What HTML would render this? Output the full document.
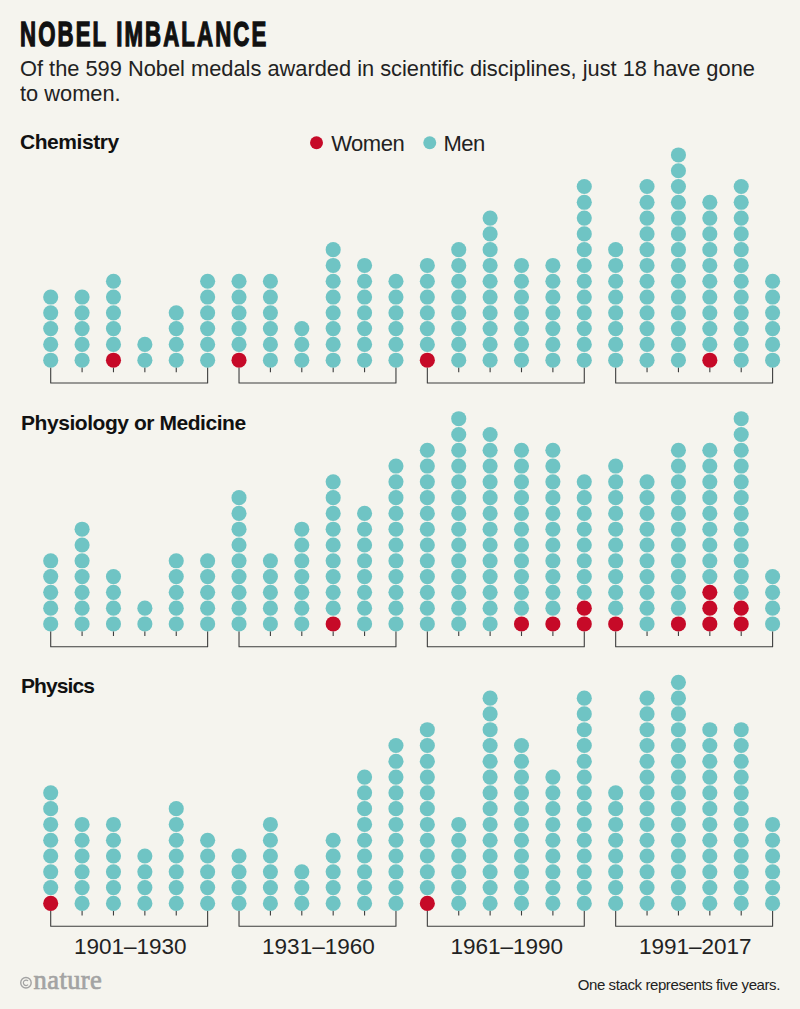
<!DOCTYPE html>
<html><head><meta charset="utf-8"><style>
html,body{margin:0;padding:0;background:#f5f4ee;}
body{width:800px;height:1009px;position:relative;overflow:hidden;font-family:"Liberation Sans",sans-serif;color:#1a1a1a;}
.t{position:absolute;white-space:nowrap;line-height:1;}
#title{left:19.5px;top:16.75px;font-size:35.5px;font-weight:bold;color:#111;transform:scaleX(0.625);transform-origin:0 0;letter-spacing:3.4px;-webkit-text-stroke:1.4px #111;}
#sub{left:20px;top:55.7px;font-size:22.5px;line-height:25.1px;color:#222;transform:scaleX(0.9696);transform-origin:0 0;}
.sec{font-size:21px;font-weight:bold;color:#111;letter-spacing:-0.45px;}
.leg{font-size:22px;color:#222;letter-spacing:-0.5px;}
.yr{font-size:22.5px;color:#222;}
#note{font-size:15px;color:#222;letter-spacing:-0.4px;}
#logo{left:33.6px;top:967.1px;font-family:"Liberation Serif",serif;color:#a3a3a3;font-size:26.5px;font-weight:normal;letter-spacing:0.4px;-webkit-text-stroke:0.7px #a3a3a3;}
#copy{left:19px;top:975px;font-family:"Liberation Serif",serif;color:#a3a3a3;font-size:17.5px;font-weight:bold;}
</style></head><body>
<svg width="800" height="1009" viewBox="0 0 800 1009" style="position:absolute;left:0;top:0">
<circle cx="50.70" cy="360.20" r="7.55" fill="#6fc4c4"/>
<circle cx="50.70" cy="344.41" r="7.55" fill="#6fc4c4"/>
<circle cx="50.70" cy="328.62" r="7.55" fill="#6fc4c4"/>
<circle cx="50.70" cy="312.83" r="7.55" fill="#6fc4c4"/>
<circle cx="50.70" cy="297.04" r="7.55" fill="#6fc4c4"/>
<circle cx="82.09" cy="360.20" r="7.55" fill="#6fc4c4"/>
<circle cx="82.09" cy="344.41" r="7.55" fill="#6fc4c4"/>
<circle cx="82.09" cy="328.62" r="7.55" fill="#6fc4c4"/>
<circle cx="82.09" cy="312.83" r="7.55" fill="#6fc4c4"/>
<circle cx="82.09" cy="297.04" r="7.55" fill="#6fc4c4"/>
<circle cx="113.47" cy="360.20" r="7.55" fill="#c60a28"/>
<circle cx="113.47" cy="344.41" r="7.55" fill="#6fc4c4"/>
<circle cx="113.47" cy="328.62" r="7.55" fill="#6fc4c4"/>
<circle cx="113.47" cy="312.83" r="7.55" fill="#6fc4c4"/>
<circle cx="113.47" cy="297.04" r="7.55" fill="#6fc4c4"/>
<circle cx="113.47" cy="281.25" r="7.55" fill="#6fc4c4"/>
<circle cx="144.86" cy="360.20" r="7.55" fill="#6fc4c4"/>
<circle cx="144.86" cy="344.41" r="7.55" fill="#6fc4c4"/>
<circle cx="176.25" cy="360.20" r="7.55" fill="#6fc4c4"/>
<circle cx="176.25" cy="344.41" r="7.55" fill="#6fc4c4"/>
<circle cx="176.25" cy="328.62" r="7.55" fill="#6fc4c4"/>
<circle cx="176.25" cy="312.83" r="7.55" fill="#6fc4c4"/>
<circle cx="207.63" cy="360.20" r="7.55" fill="#6fc4c4"/>
<circle cx="207.63" cy="344.41" r="7.55" fill="#6fc4c4"/>
<circle cx="207.63" cy="328.62" r="7.55" fill="#6fc4c4"/>
<circle cx="207.63" cy="312.83" r="7.55" fill="#6fc4c4"/>
<circle cx="207.63" cy="297.04" r="7.55" fill="#6fc4c4"/>
<circle cx="207.63" cy="281.25" r="7.55" fill="#6fc4c4"/>
<circle cx="239.02" cy="360.20" r="7.55" fill="#c60a28"/>
<circle cx="239.02" cy="344.41" r="7.55" fill="#6fc4c4"/>
<circle cx="239.02" cy="328.62" r="7.55" fill="#6fc4c4"/>
<circle cx="239.02" cy="312.83" r="7.55" fill="#6fc4c4"/>
<circle cx="239.02" cy="297.04" r="7.55" fill="#6fc4c4"/>
<circle cx="239.02" cy="281.25" r="7.55" fill="#6fc4c4"/>
<circle cx="270.41" cy="360.20" r="7.55" fill="#6fc4c4"/>
<circle cx="270.41" cy="344.41" r="7.55" fill="#6fc4c4"/>
<circle cx="270.41" cy="328.62" r="7.55" fill="#6fc4c4"/>
<circle cx="270.41" cy="312.83" r="7.55" fill="#6fc4c4"/>
<circle cx="270.41" cy="297.04" r="7.55" fill="#6fc4c4"/>
<circle cx="270.41" cy="281.25" r="7.55" fill="#6fc4c4"/>
<circle cx="301.80" cy="360.20" r="7.55" fill="#6fc4c4"/>
<circle cx="301.80" cy="344.41" r="7.55" fill="#6fc4c4"/>
<circle cx="301.80" cy="328.62" r="7.55" fill="#6fc4c4"/>
<circle cx="333.18" cy="360.20" r="7.55" fill="#6fc4c4"/>
<circle cx="333.18" cy="344.41" r="7.55" fill="#6fc4c4"/>
<circle cx="333.18" cy="328.62" r="7.55" fill="#6fc4c4"/>
<circle cx="333.18" cy="312.83" r="7.55" fill="#6fc4c4"/>
<circle cx="333.18" cy="297.04" r="7.55" fill="#6fc4c4"/>
<circle cx="333.18" cy="281.25" r="7.55" fill="#6fc4c4"/>
<circle cx="333.18" cy="265.46" r="7.55" fill="#6fc4c4"/>
<circle cx="333.18" cy="249.67" r="7.55" fill="#6fc4c4"/>
<circle cx="364.57" cy="360.20" r="7.55" fill="#6fc4c4"/>
<circle cx="364.57" cy="344.41" r="7.55" fill="#6fc4c4"/>
<circle cx="364.57" cy="328.62" r="7.55" fill="#6fc4c4"/>
<circle cx="364.57" cy="312.83" r="7.55" fill="#6fc4c4"/>
<circle cx="364.57" cy="297.04" r="7.55" fill="#6fc4c4"/>
<circle cx="364.57" cy="281.25" r="7.55" fill="#6fc4c4"/>
<circle cx="364.57" cy="265.46" r="7.55" fill="#6fc4c4"/>
<circle cx="395.96" cy="360.20" r="7.55" fill="#6fc4c4"/>
<circle cx="395.96" cy="344.41" r="7.55" fill="#6fc4c4"/>
<circle cx="395.96" cy="328.62" r="7.55" fill="#6fc4c4"/>
<circle cx="395.96" cy="312.83" r="7.55" fill="#6fc4c4"/>
<circle cx="395.96" cy="297.04" r="7.55" fill="#6fc4c4"/>
<circle cx="395.96" cy="281.25" r="7.55" fill="#6fc4c4"/>
<circle cx="427.34" cy="360.20" r="7.55" fill="#c60a28"/>
<circle cx="427.34" cy="344.41" r="7.55" fill="#6fc4c4"/>
<circle cx="427.34" cy="328.62" r="7.55" fill="#6fc4c4"/>
<circle cx="427.34" cy="312.83" r="7.55" fill="#6fc4c4"/>
<circle cx="427.34" cy="297.04" r="7.55" fill="#6fc4c4"/>
<circle cx="427.34" cy="281.25" r="7.55" fill="#6fc4c4"/>
<circle cx="427.34" cy="265.46" r="7.55" fill="#6fc4c4"/>
<circle cx="458.73" cy="360.20" r="7.55" fill="#6fc4c4"/>
<circle cx="458.73" cy="344.41" r="7.55" fill="#6fc4c4"/>
<circle cx="458.73" cy="328.62" r="7.55" fill="#6fc4c4"/>
<circle cx="458.73" cy="312.83" r="7.55" fill="#6fc4c4"/>
<circle cx="458.73" cy="297.04" r="7.55" fill="#6fc4c4"/>
<circle cx="458.73" cy="281.25" r="7.55" fill="#6fc4c4"/>
<circle cx="458.73" cy="265.46" r="7.55" fill="#6fc4c4"/>
<circle cx="458.73" cy="249.67" r="7.55" fill="#6fc4c4"/>
<circle cx="490.12" cy="360.20" r="7.55" fill="#6fc4c4"/>
<circle cx="490.12" cy="344.41" r="7.55" fill="#6fc4c4"/>
<circle cx="490.12" cy="328.62" r="7.55" fill="#6fc4c4"/>
<circle cx="490.12" cy="312.83" r="7.55" fill="#6fc4c4"/>
<circle cx="490.12" cy="297.04" r="7.55" fill="#6fc4c4"/>
<circle cx="490.12" cy="281.25" r="7.55" fill="#6fc4c4"/>
<circle cx="490.12" cy="265.46" r="7.55" fill="#6fc4c4"/>
<circle cx="490.12" cy="249.67" r="7.55" fill="#6fc4c4"/>
<circle cx="490.12" cy="233.88" r="7.55" fill="#6fc4c4"/>
<circle cx="490.12" cy="218.09" r="7.55" fill="#6fc4c4"/>
<circle cx="521.50" cy="360.20" r="7.55" fill="#6fc4c4"/>
<circle cx="521.50" cy="344.41" r="7.55" fill="#6fc4c4"/>
<circle cx="521.50" cy="328.62" r="7.55" fill="#6fc4c4"/>
<circle cx="521.50" cy="312.83" r="7.55" fill="#6fc4c4"/>
<circle cx="521.50" cy="297.04" r="7.55" fill="#6fc4c4"/>
<circle cx="521.50" cy="281.25" r="7.55" fill="#6fc4c4"/>
<circle cx="521.50" cy="265.46" r="7.55" fill="#6fc4c4"/>
<circle cx="552.89" cy="360.20" r="7.55" fill="#6fc4c4"/>
<circle cx="552.89" cy="344.41" r="7.55" fill="#6fc4c4"/>
<circle cx="552.89" cy="328.62" r="7.55" fill="#6fc4c4"/>
<circle cx="552.89" cy="312.83" r="7.55" fill="#6fc4c4"/>
<circle cx="552.89" cy="297.04" r="7.55" fill="#6fc4c4"/>
<circle cx="552.89" cy="281.25" r="7.55" fill="#6fc4c4"/>
<circle cx="552.89" cy="265.46" r="7.55" fill="#6fc4c4"/>
<circle cx="584.28" cy="360.20" r="7.55" fill="#6fc4c4"/>
<circle cx="584.28" cy="344.41" r="7.55" fill="#6fc4c4"/>
<circle cx="584.28" cy="328.62" r="7.55" fill="#6fc4c4"/>
<circle cx="584.28" cy="312.83" r="7.55" fill="#6fc4c4"/>
<circle cx="584.28" cy="297.04" r="7.55" fill="#6fc4c4"/>
<circle cx="584.28" cy="281.25" r="7.55" fill="#6fc4c4"/>
<circle cx="584.28" cy="265.46" r="7.55" fill="#6fc4c4"/>
<circle cx="584.28" cy="249.67" r="7.55" fill="#6fc4c4"/>
<circle cx="584.28" cy="233.88" r="7.55" fill="#6fc4c4"/>
<circle cx="584.28" cy="218.09" r="7.55" fill="#6fc4c4"/>
<circle cx="584.28" cy="202.30" r="7.55" fill="#6fc4c4"/>
<circle cx="584.28" cy="186.51" r="7.55" fill="#6fc4c4"/>
<circle cx="615.67" cy="360.20" r="7.55" fill="#6fc4c4"/>
<circle cx="615.67" cy="344.41" r="7.55" fill="#6fc4c4"/>
<circle cx="615.67" cy="328.62" r="7.55" fill="#6fc4c4"/>
<circle cx="615.67" cy="312.83" r="7.55" fill="#6fc4c4"/>
<circle cx="615.67" cy="297.04" r="7.55" fill="#6fc4c4"/>
<circle cx="615.67" cy="281.25" r="7.55" fill="#6fc4c4"/>
<circle cx="615.67" cy="265.46" r="7.55" fill="#6fc4c4"/>
<circle cx="615.67" cy="249.67" r="7.55" fill="#6fc4c4"/>
<circle cx="647.05" cy="360.20" r="7.55" fill="#6fc4c4"/>
<circle cx="647.05" cy="344.41" r="7.55" fill="#6fc4c4"/>
<circle cx="647.05" cy="328.62" r="7.55" fill="#6fc4c4"/>
<circle cx="647.05" cy="312.83" r="7.55" fill="#6fc4c4"/>
<circle cx="647.05" cy="297.04" r="7.55" fill="#6fc4c4"/>
<circle cx="647.05" cy="281.25" r="7.55" fill="#6fc4c4"/>
<circle cx="647.05" cy="265.46" r="7.55" fill="#6fc4c4"/>
<circle cx="647.05" cy="249.67" r="7.55" fill="#6fc4c4"/>
<circle cx="647.05" cy="233.88" r="7.55" fill="#6fc4c4"/>
<circle cx="647.05" cy="218.09" r="7.55" fill="#6fc4c4"/>
<circle cx="647.05" cy="202.30" r="7.55" fill="#6fc4c4"/>
<circle cx="647.05" cy="186.51" r="7.55" fill="#6fc4c4"/>
<circle cx="678.44" cy="360.20" r="7.55" fill="#6fc4c4"/>
<circle cx="678.44" cy="344.41" r="7.55" fill="#6fc4c4"/>
<circle cx="678.44" cy="328.62" r="7.55" fill="#6fc4c4"/>
<circle cx="678.44" cy="312.83" r="7.55" fill="#6fc4c4"/>
<circle cx="678.44" cy="297.04" r="7.55" fill="#6fc4c4"/>
<circle cx="678.44" cy="281.25" r="7.55" fill="#6fc4c4"/>
<circle cx="678.44" cy="265.46" r="7.55" fill="#6fc4c4"/>
<circle cx="678.44" cy="249.67" r="7.55" fill="#6fc4c4"/>
<circle cx="678.44" cy="233.88" r="7.55" fill="#6fc4c4"/>
<circle cx="678.44" cy="218.09" r="7.55" fill="#6fc4c4"/>
<circle cx="678.44" cy="202.30" r="7.55" fill="#6fc4c4"/>
<circle cx="678.44" cy="186.51" r="7.55" fill="#6fc4c4"/>
<circle cx="678.44" cy="170.72" r="7.55" fill="#6fc4c4"/>
<circle cx="678.44" cy="154.93" r="7.55" fill="#6fc4c4"/>
<circle cx="709.83" cy="360.20" r="7.55" fill="#c60a28"/>
<circle cx="709.83" cy="344.41" r="7.55" fill="#6fc4c4"/>
<circle cx="709.83" cy="328.62" r="7.55" fill="#6fc4c4"/>
<circle cx="709.83" cy="312.83" r="7.55" fill="#6fc4c4"/>
<circle cx="709.83" cy="297.04" r="7.55" fill="#6fc4c4"/>
<circle cx="709.83" cy="281.25" r="7.55" fill="#6fc4c4"/>
<circle cx="709.83" cy="265.46" r="7.55" fill="#6fc4c4"/>
<circle cx="709.83" cy="249.67" r="7.55" fill="#6fc4c4"/>
<circle cx="709.83" cy="233.88" r="7.55" fill="#6fc4c4"/>
<circle cx="709.83" cy="218.09" r="7.55" fill="#6fc4c4"/>
<circle cx="709.83" cy="202.30" r="7.55" fill="#6fc4c4"/>
<circle cx="741.21" cy="360.20" r="7.55" fill="#6fc4c4"/>
<circle cx="741.21" cy="344.41" r="7.55" fill="#6fc4c4"/>
<circle cx="741.21" cy="328.62" r="7.55" fill="#6fc4c4"/>
<circle cx="741.21" cy="312.83" r="7.55" fill="#6fc4c4"/>
<circle cx="741.21" cy="297.04" r="7.55" fill="#6fc4c4"/>
<circle cx="741.21" cy="281.25" r="7.55" fill="#6fc4c4"/>
<circle cx="741.21" cy="265.46" r="7.55" fill="#6fc4c4"/>
<circle cx="741.21" cy="249.67" r="7.55" fill="#6fc4c4"/>
<circle cx="741.21" cy="233.88" r="7.55" fill="#6fc4c4"/>
<circle cx="741.21" cy="218.09" r="7.55" fill="#6fc4c4"/>
<circle cx="741.21" cy="202.30" r="7.55" fill="#6fc4c4"/>
<circle cx="741.21" cy="186.51" r="7.55" fill="#6fc4c4"/>
<circle cx="772.60" cy="360.20" r="7.55" fill="#6fc4c4"/>
<circle cx="772.60" cy="344.41" r="7.55" fill="#6fc4c4"/>
<circle cx="772.60" cy="328.62" r="7.55" fill="#6fc4c4"/>
<circle cx="772.60" cy="312.83" r="7.55" fill="#6fc4c4"/>
<circle cx="772.60" cy="297.04" r="7.55" fill="#6fc4c4"/>
<circle cx="772.60" cy="281.25" r="7.55" fill="#6fc4c4"/>
<path d="M50.70 367.75V383.00H207.63V367.75 M82.09 367.75V372.20 M113.47 367.75V372.20 M144.86 367.75V372.20 M176.25 367.75V372.20 M239.02 367.75V383.00H395.96V367.75 M270.41 367.75V372.20 M301.80 367.75V372.20 M333.18 367.75V372.20 M364.57 367.75V372.20 M427.34 367.75V383.00H584.28V367.75 M458.73 367.75V372.20 M490.12 367.75V372.20 M521.50 367.75V372.20 M552.89 367.75V372.20 M615.67 367.75V383.00H772.60V367.75 M647.05 367.75V372.20 M678.44 367.75V372.20 M709.83 367.75V372.20 M741.21 367.75V372.20" stroke="#3d3d3d" stroke-width="1.1" fill="none" stroke-linejoin="round"/>
<circle cx="50.70" cy="623.95" r="7.55" fill="#6fc4c4"/>
<circle cx="50.70" cy="608.16" r="7.55" fill="#6fc4c4"/>
<circle cx="50.70" cy="592.37" r="7.55" fill="#6fc4c4"/>
<circle cx="50.70" cy="576.58" r="7.55" fill="#6fc4c4"/>
<circle cx="50.70" cy="560.79" r="7.55" fill="#6fc4c4"/>
<circle cx="82.09" cy="623.95" r="7.55" fill="#6fc4c4"/>
<circle cx="82.09" cy="608.16" r="7.55" fill="#6fc4c4"/>
<circle cx="82.09" cy="592.37" r="7.55" fill="#6fc4c4"/>
<circle cx="82.09" cy="576.58" r="7.55" fill="#6fc4c4"/>
<circle cx="82.09" cy="560.79" r="7.55" fill="#6fc4c4"/>
<circle cx="82.09" cy="545.00" r="7.55" fill="#6fc4c4"/>
<circle cx="82.09" cy="529.21" r="7.55" fill="#6fc4c4"/>
<circle cx="113.47" cy="623.95" r="7.55" fill="#6fc4c4"/>
<circle cx="113.47" cy="608.16" r="7.55" fill="#6fc4c4"/>
<circle cx="113.47" cy="592.37" r="7.55" fill="#6fc4c4"/>
<circle cx="113.47" cy="576.58" r="7.55" fill="#6fc4c4"/>
<circle cx="144.86" cy="623.95" r="7.55" fill="#6fc4c4"/>
<circle cx="144.86" cy="608.16" r="7.55" fill="#6fc4c4"/>
<circle cx="176.25" cy="623.95" r="7.55" fill="#6fc4c4"/>
<circle cx="176.25" cy="608.16" r="7.55" fill="#6fc4c4"/>
<circle cx="176.25" cy="592.37" r="7.55" fill="#6fc4c4"/>
<circle cx="176.25" cy="576.58" r="7.55" fill="#6fc4c4"/>
<circle cx="176.25" cy="560.79" r="7.55" fill="#6fc4c4"/>
<circle cx="207.63" cy="623.95" r="7.55" fill="#6fc4c4"/>
<circle cx="207.63" cy="608.16" r="7.55" fill="#6fc4c4"/>
<circle cx="207.63" cy="592.37" r="7.55" fill="#6fc4c4"/>
<circle cx="207.63" cy="576.58" r="7.55" fill="#6fc4c4"/>
<circle cx="207.63" cy="560.79" r="7.55" fill="#6fc4c4"/>
<circle cx="239.02" cy="623.95" r="7.55" fill="#6fc4c4"/>
<circle cx="239.02" cy="608.16" r="7.55" fill="#6fc4c4"/>
<circle cx="239.02" cy="592.37" r="7.55" fill="#6fc4c4"/>
<circle cx="239.02" cy="576.58" r="7.55" fill="#6fc4c4"/>
<circle cx="239.02" cy="560.79" r="7.55" fill="#6fc4c4"/>
<circle cx="239.02" cy="545.00" r="7.55" fill="#6fc4c4"/>
<circle cx="239.02" cy="529.21" r="7.55" fill="#6fc4c4"/>
<circle cx="239.02" cy="513.42" r="7.55" fill="#6fc4c4"/>
<circle cx="239.02" cy="497.63" r="7.55" fill="#6fc4c4"/>
<circle cx="270.41" cy="623.95" r="7.55" fill="#6fc4c4"/>
<circle cx="270.41" cy="608.16" r="7.55" fill="#6fc4c4"/>
<circle cx="270.41" cy="592.37" r="7.55" fill="#6fc4c4"/>
<circle cx="270.41" cy="576.58" r="7.55" fill="#6fc4c4"/>
<circle cx="270.41" cy="560.79" r="7.55" fill="#6fc4c4"/>
<circle cx="301.80" cy="623.95" r="7.55" fill="#6fc4c4"/>
<circle cx="301.80" cy="608.16" r="7.55" fill="#6fc4c4"/>
<circle cx="301.80" cy="592.37" r="7.55" fill="#6fc4c4"/>
<circle cx="301.80" cy="576.58" r="7.55" fill="#6fc4c4"/>
<circle cx="301.80" cy="560.79" r="7.55" fill="#6fc4c4"/>
<circle cx="301.80" cy="545.00" r="7.55" fill="#6fc4c4"/>
<circle cx="301.80" cy="529.21" r="7.55" fill="#6fc4c4"/>
<circle cx="333.18" cy="623.95" r="7.55" fill="#c60a28"/>
<circle cx="333.18" cy="608.16" r="7.55" fill="#6fc4c4"/>
<circle cx="333.18" cy="592.37" r="7.55" fill="#6fc4c4"/>
<circle cx="333.18" cy="576.58" r="7.55" fill="#6fc4c4"/>
<circle cx="333.18" cy="560.79" r="7.55" fill="#6fc4c4"/>
<circle cx="333.18" cy="545.00" r="7.55" fill="#6fc4c4"/>
<circle cx="333.18" cy="529.21" r="7.55" fill="#6fc4c4"/>
<circle cx="333.18" cy="513.42" r="7.55" fill="#6fc4c4"/>
<circle cx="333.18" cy="497.63" r="7.55" fill="#6fc4c4"/>
<circle cx="333.18" cy="481.84" r="7.55" fill="#6fc4c4"/>
<circle cx="364.57" cy="623.95" r="7.55" fill="#6fc4c4"/>
<circle cx="364.57" cy="608.16" r="7.55" fill="#6fc4c4"/>
<circle cx="364.57" cy="592.37" r="7.55" fill="#6fc4c4"/>
<circle cx="364.57" cy="576.58" r="7.55" fill="#6fc4c4"/>
<circle cx="364.57" cy="560.79" r="7.55" fill="#6fc4c4"/>
<circle cx="364.57" cy="545.00" r="7.55" fill="#6fc4c4"/>
<circle cx="364.57" cy="529.21" r="7.55" fill="#6fc4c4"/>
<circle cx="364.57" cy="513.42" r="7.55" fill="#6fc4c4"/>
<circle cx="395.96" cy="623.95" r="7.55" fill="#6fc4c4"/>
<circle cx="395.96" cy="608.16" r="7.55" fill="#6fc4c4"/>
<circle cx="395.96" cy="592.37" r="7.55" fill="#6fc4c4"/>
<circle cx="395.96" cy="576.58" r="7.55" fill="#6fc4c4"/>
<circle cx="395.96" cy="560.79" r="7.55" fill="#6fc4c4"/>
<circle cx="395.96" cy="545.00" r="7.55" fill="#6fc4c4"/>
<circle cx="395.96" cy="529.21" r="7.55" fill="#6fc4c4"/>
<circle cx="395.96" cy="513.42" r="7.55" fill="#6fc4c4"/>
<circle cx="395.96" cy="497.63" r="7.55" fill="#6fc4c4"/>
<circle cx="395.96" cy="481.84" r="7.55" fill="#6fc4c4"/>
<circle cx="395.96" cy="466.05" r="7.55" fill="#6fc4c4"/>
<circle cx="427.34" cy="623.95" r="7.55" fill="#6fc4c4"/>
<circle cx="427.34" cy="608.16" r="7.55" fill="#6fc4c4"/>
<circle cx="427.34" cy="592.37" r="7.55" fill="#6fc4c4"/>
<circle cx="427.34" cy="576.58" r="7.55" fill="#6fc4c4"/>
<circle cx="427.34" cy="560.79" r="7.55" fill="#6fc4c4"/>
<circle cx="427.34" cy="545.00" r="7.55" fill="#6fc4c4"/>
<circle cx="427.34" cy="529.21" r="7.55" fill="#6fc4c4"/>
<circle cx="427.34" cy="513.42" r="7.55" fill="#6fc4c4"/>
<circle cx="427.34" cy="497.63" r="7.55" fill="#6fc4c4"/>
<circle cx="427.34" cy="481.84" r="7.55" fill="#6fc4c4"/>
<circle cx="427.34" cy="466.05" r="7.55" fill="#6fc4c4"/>
<circle cx="427.34" cy="450.26" r="7.55" fill="#6fc4c4"/>
<circle cx="458.73" cy="623.95" r="7.55" fill="#6fc4c4"/>
<circle cx="458.73" cy="608.16" r="7.55" fill="#6fc4c4"/>
<circle cx="458.73" cy="592.37" r="7.55" fill="#6fc4c4"/>
<circle cx="458.73" cy="576.58" r="7.55" fill="#6fc4c4"/>
<circle cx="458.73" cy="560.79" r="7.55" fill="#6fc4c4"/>
<circle cx="458.73" cy="545.00" r="7.55" fill="#6fc4c4"/>
<circle cx="458.73" cy="529.21" r="7.55" fill="#6fc4c4"/>
<circle cx="458.73" cy="513.42" r="7.55" fill="#6fc4c4"/>
<circle cx="458.73" cy="497.63" r="7.55" fill="#6fc4c4"/>
<circle cx="458.73" cy="481.84" r="7.55" fill="#6fc4c4"/>
<circle cx="458.73" cy="466.05" r="7.55" fill="#6fc4c4"/>
<circle cx="458.73" cy="450.26" r="7.55" fill="#6fc4c4"/>
<circle cx="458.73" cy="434.47" r="7.55" fill="#6fc4c4"/>
<circle cx="458.73" cy="418.68" r="7.55" fill="#6fc4c4"/>
<circle cx="490.12" cy="623.95" r="7.55" fill="#6fc4c4"/>
<circle cx="490.12" cy="608.16" r="7.55" fill="#6fc4c4"/>
<circle cx="490.12" cy="592.37" r="7.55" fill="#6fc4c4"/>
<circle cx="490.12" cy="576.58" r="7.55" fill="#6fc4c4"/>
<circle cx="490.12" cy="560.79" r="7.55" fill="#6fc4c4"/>
<circle cx="490.12" cy="545.00" r="7.55" fill="#6fc4c4"/>
<circle cx="490.12" cy="529.21" r="7.55" fill="#6fc4c4"/>
<circle cx="490.12" cy="513.42" r="7.55" fill="#6fc4c4"/>
<circle cx="490.12" cy="497.63" r="7.55" fill="#6fc4c4"/>
<circle cx="490.12" cy="481.84" r="7.55" fill="#6fc4c4"/>
<circle cx="490.12" cy="466.05" r="7.55" fill="#6fc4c4"/>
<circle cx="490.12" cy="450.26" r="7.55" fill="#6fc4c4"/>
<circle cx="490.12" cy="434.47" r="7.55" fill="#6fc4c4"/>
<circle cx="521.50" cy="623.95" r="7.55" fill="#c60a28"/>
<circle cx="521.50" cy="608.16" r="7.55" fill="#6fc4c4"/>
<circle cx="521.50" cy="592.37" r="7.55" fill="#6fc4c4"/>
<circle cx="521.50" cy="576.58" r="7.55" fill="#6fc4c4"/>
<circle cx="521.50" cy="560.79" r="7.55" fill="#6fc4c4"/>
<circle cx="521.50" cy="545.00" r="7.55" fill="#6fc4c4"/>
<circle cx="521.50" cy="529.21" r="7.55" fill="#6fc4c4"/>
<circle cx="521.50" cy="513.42" r="7.55" fill="#6fc4c4"/>
<circle cx="521.50" cy="497.63" r="7.55" fill="#6fc4c4"/>
<circle cx="521.50" cy="481.84" r="7.55" fill="#6fc4c4"/>
<circle cx="521.50" cy="466.05" r="7.55" fill="#6fc4c4"/>
<circle cx="521.50" cy="450.26" r="7.55" fill="#6fc4c4"/>
<circle cx="552.89" cy="623.95" r="7.55" fill="#c60a28"/>
<circle cx="552.89" cy="608.16" r="7.55" fill="#6fc4c4"/>
<circle cx="552.89" cy="592.37" r="7.55" fill="#6fc4c4"/>
<circle cx="552.89" cy="576.58" r="7.55" fill="#6fc4c4"/>
<circle cx="552.89" cy="560.79" r="7.55" fill="#6fc4c4"/>
<circle cx="552.89" cy="545.00" r="7.55" fill="#6fc4c4"/>
<circle cx="552.89" cy="529.21" r="7.55" fill="#6fc4c4"/>
<circle cx="552.89" cy="513.42" r="7.55" fill="#6fc4c4"/>
<circle cx="552.89" cy="497.63" r="7.55" fill="#6fc4c4"/>
<circle cx="552.89" cy="481.84" r="7.55" fill="#6fc4c4"/>
<circle cx="552.89" cy="466.05" r="7.55" fill="#6fc4c4"/>
<circle cx="552.89" cy="450.26" r="7.55" fill="#6fc4c4"/>
<circle cx="584.28" cy="623.95" r="7.55" fill="#c60a28"/>
<circle cx="584.28" cy="608.16" r="7.55" fill="#c60a28"/>
<circle cx="584.28" cy="592.37" r="7.55" fill="#6fc4c4"/>
<circle cx="584.28" cy="576.58" r="7.55" fill="#6fc4c4"/>
<circle cx="584.28" cy="560.79" r="7.55" fill="#6fc4c4"/>
<circle cx="584.28" cy="545.00" r="7.55" fill="#6fc4c4"/>
<circle cx="584.28" cy="529.21" r="7.55" fill="#6fc4c4"/>
<circle cx="584.28" cy="513.42" r="7.55" fill="#6fc4c4"/>
<circle cx="584.28" cy="497.63" r="7.55" fill="#6fc4c4"/>
<circle cx="584.28" cy="481.84" r="7.55" fill="#6fc4c4"/>
<circle cx="615.67" cy="623.95" r="7.55" fill="#c60a28"/>
<circle cx="615.67" cy="608.16" r="7.55" fill="#6fc4c4"/>
<circle cx="615.67" cy="592.37" r="7.55" fill="#6fc4c4"/>
<circle cx="615.67" cy="576.58" r="7.55" fill="#6fc4c4"/>
<circle cx="615.67" cy="560.79" r="7.55" fill="#6fc4c4"/>
<circle cx="615.67" cy="545.00" r="7.55" fill="#6fc4c4"/>
<circle cx="615.67" cy="529.21" r="7.55" fill="#6fc4c4"/>
<circle cx="615.67" cy="513.42" r="7.55" fill="#6fc4c4"/>
<circle cx="615.67" cy="497.63" r="7.55" fill="#6fc4c4"/>
<circle cx="615.67" cy="481.84" r="7.55" fill="#6fc4c4"/>
<circle cx="615.67" cy="466.05" r="7.55" fill="#6fc4c4"/>
<circle cx="647.05" cy="623.95" r="7.55" fill="#6fc4c4"/>
<circle cx="647.05" cy="608.16" r="7.55" fill="#6fc4c4"/>
<circle cx="647.05" cy="592.37" r="7.55" fill="#6fc4c4"/>
<circle cx="647.05" cy="576.58" r="7.55" fill="#6fc4c4"/>
<circle cx="647.05" cy="560.79" r="7.55" fill="#6fc4c4"/>
<circle cx="647.05" cy="545.00" r="7.55" fill="#6fc4c4"/>
<circle cx="647.05" cy="529.21" r="7.55" fill="#6fc4c4"/>
<circle cx="647.05" cy="513.42" r="7.55" fill="#6fc4c4"/>
<circle cx="647.05" cy="497.63" r="7.55" fill="#6fc4c4"/>
<circle cx="647.05" cy="481.84" r="7.55" fill="#6fc4c4"/>
<circle cx="678.44" cy="623.95" r="7.55" fill="#c60a28"/>
<circle cx="678.44" cy="608.16" r="7.55" fill="#6fc4c4"/>
<circle cx="678.44" cy="592.37" r="7.55" fill="#6fc4c4"/>
<circle cx="678.44" cy="576.58" r="7.55" fill="#6fc4c4"/>
<circle cx="678.44" cy="560.79" r="7.55" fill="#6fc4c4"/>
<circle cx="678.44" cy="545.00" r="7.55" fill="#6fc4c4"/>
<circle cx="678.44" cy="529.21" r="7.55" fill="#6fc4c4"/>
<circle cx="678.44" cy="513.42" r="7.55" fill="#6fc4c4"/>
<circle cx="678.44" cy="497.63" r="7.55" fill="#6fc4c4"/>
<circle cx="678.44" cy="481.84" r="7.55" fill="#6fc4c4"/>
<circle cx="678.44" cy="466.05" r="7.55" fill="#6fc4c4"/>
<circle cx="678.44" cy="450.26" r="7.55" fill="#6fc4c4"/>
<circle cx="709.83" cy="623.95" r="7.55" fill="#c60a28"/>
<circle cx="709.83" cy="608.16" r="7.55" fill="#c60a28"/>
<circle cx="709.83" cy="592.37" r="7.55" fill="#c60a28"/>
<circle cx="709.83" cy="576.58" r="7.55" fill="#6fc4c4"/>
<circle cx="709.83" cy="560.79" r="7.55" fill="#6fc4c4"/>
<circle cx="709.83" cy="545.00" r="7.55" fill="#6fc4c4"/>
<circle cx="709.83" cy="529.21" r="7.55" fill="#6fc4c4"/>
<circle cx="709.83" cy="513.42" r="7.55" fill="#6fc4c4"/>
<circle cx="709.83" cy="497.63" r="7.55" fill="#6fc4c4"/>
<circle cx="709.83" cy="481.84" r="7.55" fill="#6fc4c4"/>
<circle cx="709.83" cy="466.05" r="7.55" fill="#6fc4c4"/>
<circle cx="709.83" cy="450.26" r="7.55" fill="#6fc4c4"/>
<circle cx="741.21" cy="623.95" r="7.55" fill="#c60a28"/>
<circle cx="741.21" cy="608.16" r="7.55" fill="#c60a28"/>
<circle cx="741.21" cy="592.37" r="7.55" fill="#6fc4c4"/>
<circle cx="741.21" cy="576.58" r="7.55" fill="#6fc4c4"/>
<circle cx="741.21" cy="560.79" r="7.55" fill="#6fc4c4"/>
<circle cx="741.21" cy="545.00" r="7.55" fill="#6fc4c4"/>
<circle cx="741.21" cy="529.21" r="7.55" fill="#6fc4c4"/>
<circle cx="741.21" cy="513.42" r="7.55" fill="#6fc4c4"/>
<circle cx="741.21" cy="497.63" r="7.55" fill="#6fc4c4"/>
<circle cx="741.21" cy="481.84" r="7.55" fill="#6fc4c4"/>
<circle cx="741.21" cy="466.05" r="7.55" fill="#6fc4c4"/>
<circle cx="741.21" cy="450.26" r="7.55" fill="#6fc4c4"/>
<circle cx="741.21" cy="434.47" r="7.55" fill="#6fc4c4"/>
<circle cx="741.21" cy="418.68" r="7.55" fill="#6fc4c4"/>
<circle cx="772.60" cy="623.95" r="7.55" fill="#6fc4c4"/>
<circle cx="772.60" cy="608.16" r="7.55" fill="#6fc4c4"/>
<circle cx="772.60" cy="592.37" r="7.55" fill="#6fc4c4"/>
<circle cx="772.60" cy="576.58" r="7.55" fill="#6fc4c4"/>
<path d="M50.70 631.50V646.75H207.63V631.50 M82.09 631.50V635.95 M113.47 631.50V635.95 M144.86 631.50V635.95 M176.25 631.50V635.95 M239.02 631.50V646.75H395.96V631.50 M270.41 631.50V635.95 M301.80 631.50V635.95 M333.18 631.50V635.95 M364.57 631.50V635.95 M427.34 631.50V646.75H584.28V631.50 M458.73 631.50V635.95 M490.12 631.50V635.95 M521.50 631.50V635.95 M552.89 631.50V635.95 M615.67 631.50V646.75H772.60V631.50 M647.05 631.50V635.95 M678.44 631.50V635.95 M709.83 631.50V635.95 M741.21 631.50V635.95" stroke="#3d3d3d" stroke-width="1.1" fill="none" stroke-linejoin="round"/>
<circle cx="50.70" cy="903.40" r="7.55" fill="#c60a28"/>
<circle cx="50.70" cy="887.61" r="7.55" fill="#6fc4c4"/>
<circle cx="50.70" cy="871.82" r="7.55" fill="#6fc4c4"/>
<circle cx="50.70" cy="856.03" r="7.55" fill="#6fc4c4"/>
<circle cx="50.70" cy="840.24" r="7.55" fill="#6fc4c4"/>
<circle cx="50.70" cy="824.45" r="7.55" fill="#6fc4c4"/>
<circle cx="50.70" cy="808.66" r="7.55" fill="#6fc4c4"/>
<circle cx="50.70" cy="792.87" r="7.55" fill="#6fc4c4"/>
<circle cx="82.09" cy="903.40" r="7.55" fill="#6fc4c4"/>
<circle cx="82.09" cy="887.61" r="7.55" fill="#6fc4c4"/>
<circle cx="82.09" cy="871.82" r="7.55" fill="#6fc4c4"/>
<circle cx="82.09" cy="856.03" r="7.55" fill="#6fc4c4"/>
<circle cx="82.09" cy="840.24" r="7.55" fill="#6fc4c4"/>
<circle cx="82.09" cy="824.45" r="7.55" fill="#6fc4c4"/>
<circle cx="113.47" cy="903.40" r="7.55" fill="#6fc4c4"/>
<circle cx="113.47" cy="887.61" r="7.55" fill="#6fc4c4"/>
<circle cx="113.47" cy="871.82" r="7.55" fill="#6fc4c4"/>
<circle cx="113.47" cy="856.03" r="7.55" fill="#6fc4c4"/>
<circle cx="113.47" cy="840.24" r="7.55" fill="#6fc4c4"/>
<circle cx="113.47" cy="824.45" r="7.55" fill="#6fc4c4"/>
<circle cx="144.86" cy="903.40" r="7.55" fill="#6fc4c4"/>
<circle cx="144.86" cy="887.61" r="7.55" fill="#6fc4c4"/>
<circle cx="144.86" cy="871.82" r="7.55" fill="#6fc4c4"/>
<circle cx="144.86" cy="856.03" r="7.55" fill="#6fc4c4"/>
<circle cx="176.25" cy="903.40" r="7.55" fill="#6fc4c4"/>
<circle cx="176.25" cy="887.61" r="7.55" fill="#6fc4c4"/>
<circle cx="176.25" cy="871.82" r="7.55" fill="#6fc4c4"/>
<circle cx="176.25" cy="856.03" r="7.55" fill="#6fc4c4"/>
<circle cx="176.25" cy="840.24" r="7.55" fill="#6fc4c4"/>
<circle cx="176.25" cy="824.45" r="7.55" fill="#6fc4c4"/>
<circle cx="176.25" cy="808.66" r="7.55" fill="#6fc4c4"/>
<circle cx="207.63" cy="903.40" r="7.55" fill="#6fc4c4"/>
<circle cx="207.63" cy="887.61" r="7.55" fill="#6fc4c4"/>
<circle cx="207.63" cy="871.82" r="7.55" fill="#6fc4c4"/>
<circle cx="207.63" cy="856.03" r="7.55" fill="#6fc4c4"/>
<circle cx="207.63" cy="840.24" r="7.55" fill="#6fc4c4"/>
<circle cx="239.02" cy="903.40" r="7.55" fill="#6fc4c4"/>
<circle cx="239.02" cy="887.61" r="7.55" fill="#6fc4c4"/>
<circle cx="239.02" cy="871.82" r="7.55" fill="#6fc4c4"/>
<circle cx="239.02" cy="856.03" r="7.55" fill="#6fc4c4"/>
<circle cx="270.41" cy="903.40" r="7.55" fill="#6fc4c4"/>
<circle cx="270.41" cy="887.61" r="7.55" fill="#6fc4c4"/>
<circle cx="270.41" cy="871.82" r="7.55" fill="#6fc4c4"/>
<circle cx="270.41" cy="856.03" r="7.55" fill="#6fc4c4"/>
<circle cx="270.41" cy="840.24" r="7.55" fill="#6fc4c4"/>
<circle cx="270.41" cy="824.45" r="7.55" fill="#6fc4c4"/>
<circle cx="301.80" cy="903.40" r="7.55" fill="#6fc4c4"/>
<circle cx="301.80" cy="887.61" r="7.55" fill="#6fc4c4"/>
<circle cx="301.80" cy="871.82" r="7.55" fill="#6fc4c4"/>
<circle cx="333.18" cy="903.40" r="7.55" fill="#6fc4c4"/>
<circle cx="333.18" cy="887.61" r="7.55" fill="#6fc4c4"/>
<circle cx="333.18" cy="871.82" r="7.55" fill="#6fc4c4"/>
<circle cx="333.18" cy="856.03" r="7.55" fill="#6fc4c4"/>
<circle cx="333.18" cy="840.24" r="7.55" fill="#6fc4c4"/>
<circle cx="364.57" cy="903.40" r="7.55" fill="#6fc4c4"/>
<circle cx="364.57" cy="887.61" r="7.55" fill="#6fc4c4"/>
<circle cx="364.57" cy="871.82" r="7.55" fill="#6fc4c4"/>
<circle cx="364.57" cy="856.03" r="7.55" fill="#6fc4c4"/>
<circle cx="364.57" cy="840.24" r="7.55" fill="#6fc4c4"/>
<circle cx="364.57" cy="824.45" r="7.55" fill="#6fc4c4"/>
<circle cx="364.57" cy="808.66" r="7.55" fill="#6fc4c4"/>
<circle cx="364.57" cy="792.87" r="7.55" fill="#6fc4c4"/>
<circle cx="364.57" cy="777.08" r="7.55" fill="#6fc4c4"/>
<circle cx="395.96" cy="903.40" r="7.55" fill="#6fc4c4"/>
<circle cx="395.96" cy="887.61" r="7.55" fill="#6fc4c4"/>
<circle cx="395.96" cy="871.82" r="7.55" fill="#6fc4c4"/>
<circle cx="395.96" cy="856.03" r="7.55" fill="#6fc4c4"/>
<circle cx="395.96" cy="840.24" r="7.55" fill="#6fc4c4"/>
<circle cx="395.96" cy="824.45" r="7.55" fill="#6fc4c4"/>
<circle cx="395.96" cy="808.66" r="7.55" fill="#6fc4c4"/>
<circle cx="395.96" cy="792.87" r="7.55" fill="#6fc4c4"/>
<circle cx="395.96" cy="777.08" r="7.55" fill="#6fc4c4"/>
<circle cx="395.96" cy="761.29" r="7.55" fill="#6fc4c4"/>
<circle cx="395.96" cy="745.50" r="7.55" fill="#6fc4c4"/>
<circle cx="427.34" cy="903.40" r="7.55" fill="#c60a28"/>
<circle cx="427.34" cy="887.61" r="7.55" fill="#6fc4c4"/>
<circle cx="427.34" cy="871.82" r="7.55" fill="#6fc4c4"/>
<circle cx="427.34" cy="856.03" r="7.55" fill="#6fc4c4"/>
<circle cx="427.34" cy="840.24" r="7.55" fill="#6fc4c4"/>
<circle cx="427.34" cy="824.45" r="7.55" fill="#6fc4c4"/>
<circle cx="427.34" cy="808.66" r="7.55" fill="#6fc4c4"/>
<circle cx="427.34" cy="792.87" r="7.55" fill="#6fc4c4"/>
<circle cx="427.34" cy="777.08" r="7.55" fill="#6fc4c4"/>
<circle cx="427.34" cy="761.29" r="7.55" fill="#6fc4c4"/>
<circle cx="427.34" cy="745.50" r="7.55" fill="#6fc4c4"/>
<circle cx="427.34" cy="729.71" r="7.55" fill="#6fc4c4"/>
<circle cx="458.73" cy="903.40" r="7.55" fill="#6fc4c4"/>
<circle cx="458.73" cy="887.61" r="7.55" fill="#6fc4c4"/>
<circle cx="458.73" cy="871.82" r="7.55" fill="#6fc4c4"/>
<circle cx="458.73" cy="856.03" r="7.55" fill="#6fc4c4"/>
<circle cx="458.73" cy="840.24" r="7.55" fill="#6fc4c4"/>
<circle cx="458.73" cy="824.45" r="7.55" fill="#6fc4c4"/>
<circle cx="490.12" cy="903.40" r="7.55" fill="#6fc4c4"/>
<circle cx="490.12" cy="887.61" r="7.55" fill="#6fc4c4"/>
<circle cx="490.12" cy="871.82" r="7.55" fill="#6fc4c4"/>
<circle cx="490.12" cy="856.03" r="7.55" fill="#6fc4c4"/>
<circle cx="490.12" cy="840.24" r="7.55" fill="#6fc4c4"/>
<circle cx="490.12" cy="824.45" r="7.55" fill="#6fc4c4"/>
<circle cx="490.12" cy="808.66" r="7.55" fill="#6fc4c4"/>
<circle cx="490.12" cy="792.87" r="7.55" fill="#6fc4c4"/>
<circle cx="490.12" cy="777.08" r="7.55" fill="#6fc4c4"/>
<circle cx="490.12" cy="761.29" r="7.55" fill="#6fc4c4"/>
<circle cx="490.12" cy="745.50" r="7.55" fill="#6fc4c4"/>
<circle cx="490.12" cy="729.71" r="7.55" fill="#6fc4c4"/>
<circle cx="490.12" cy="713.92" r="7.55" fill="#6fc4c4"/>
<circle cx="490.12" cy="698.13" r="7.55" fill="#6fc4c4"/>
<circle cx="521.50" cy="903.40" r="7.55" fill="#6fc4c4"/>
<circle cx="521.50" cy="887.61" r="7.55" fill="#6fc4c4"/>
<circle cx="521.50" cy="871.82" r="7.55" fill="#6fc4c4"/>
<circle cx="521.50" cy="856.03" r="7.55" fill="#6fc4c4"/>
<circle cx="521.50" cy="840.24" r="7.55" fill="#6fc4c4"/>
<circle cx="521.50" cy="824.45" r="7.55" fill="#6fc4c4"/>
<circle cx="521.50" cy="808.66" r="7.55" fill="#6fc4c4"/>
<circle cx="521.50" cy="792.87" r="7.55" fill="#6fc4c4"/>
<circle cx="521.50" cy="777.08" r="7.55" fill="#6fc4c4"/>
<circle cx="521.50" cy="761.29" r="7.55" fill="#6fc4c4"/>
<circle cx="521.50" cy="745.50" r="7.55" fill="#6fc4c4"/>
<circle cx="552.89" cy="903.40" r="7.55" fill="#6fc4c4"/>
<circle cx="552.89" cy="887.61" r="7.55" fill="#6fc4c4"/>
<circle cx="552.89" cy="871.82" r="7.55" fill="#6fc4c4"/>
<circle cx="552.89" cy="856.03" r="7.55" fill="#6fc4c4"/>
<circle cx="552.89" cy="840.24" r="7.55" fill="#6fc4c4"/>
<circle cx="552.89" cy="824.45" r="7.55" fill="#6fc4c4"/>
<circle cx="552.89" cy="808.66" r="7.55" fill="#6fc4c4"/>
<circle cx="552.89" cy="792.87" r="7.55" fill="#6fc4c4"/>
<circle cx="552.89" cy="777.08" r="7.55" fill="#6fc4c4"/>
<circle cx="584.28" cy="903.40" r="7.55" fill="#6fc4c4"/>
<circle cx="584.28" cy="887.61" r="7.55" fill="#6fc4c4"/>
<circle cx="584.28" cy="871.82" r="7.55" fill="#6fc4c4"/>
<circle cx="584.28" cy="856.03" r="7.55" fill="#6fc4c4"/>
<circle cx="584.28" cy="840.24" r="7.55" fill="#6fc4c4"/>
<circle cx="584.28" cy="824.45" r="7.55" fill="#6fc4c4"/>
<circle cx="584.28" cy="808.66" r="7.55" fill="#6fc4c4"/>
<circle cx="584.28" cy="792.87" r="7.55" fill="#6fc4c4"/>
<circle cx="584.28" cy="777.08" r="7.55" fill="#6fc4c4"/>
<circle cx="584.28" cy="761.29" r="7.55" fill="#6fc4c4"/>
<circle cx="584.28" cy="745.50" r="7.55" fill="#6fc4c4"/>
<circle cx="584.28" cy="729.71" r="7.55" fill="#6fc4c4"/>
<circle cx="584.28" cy="713.92" r="7.55" fill="#6fc4c4"/>
<circle cx="584.28" cy="698.13" r="7.55" fill="#6fc4c4"/>
<circle cx="615.67" cy="903.40" r="7.55" fill="#6fc4c4"/>
<circle cx="615.67" cy="887.61" r="7.55" fill="#6fc4c4"/>
<circle cx="615.67" cy="871.82" r="7.55" fill="#6fc4c4"/>
<circle cx="615.67" cy="856.03" r="7.55" fill="#6fc4c4"/>
<circle cx="615.67" cy="840.24" r="7.55" fill="#6fc4c4"/>
<circle cx="615.67" cy="824.45" r="7.55" fill="#6fc4c4"/>
<circle cx="615.67" cy="808.66" r="7.55" fill="#6fc4c4"/>
<circle cx="615.67" cy="792.87" r="7.55" fill="#6fc4c4"/>
<circle cx="647.05" cy="903.40" r="7.55" fill="#6fc4c4"/>
<circle cx="647.05" cy="887.61" r="7.55" fill="#6fc4c4"/>
<circle cx="647.05" cy="871.82" r="7.55" fill="#6fc4c4"/>
<circle cx="647.05" cy="856.03" r="7.55" fill="#6fc4c4"/>
<circle cx="647.05" cy="840.24" r="7.55" fill="#6fc4c4"/>
<circle cx="647.05" cy="824.45" r="7.55" fill="#6fc4c4"/>
<circle cx="647.05" cy="808.66" r="7.55" fill="#6fc4c4"/>
<circle cx="647.05" cy="792.87" r="7.55" fill="#6fc4c4"/>
<circle cx="647.05" cy="777.08" r="7.55" fill="#6fc4c4"/>
<circle cx="647.05" cy="761.29" r="7.55" fill="#6fc4c4"/>
<circle cx="647.05" cy="745.50" r="7.55" fill="#6fc4c4"/>
<circle cx="647.05" cy="729.71" r="7.55" fill="#6fc4c4"/>
<circle cx="647.05" cy="713.92" r="7.55" fill="#6fc4c4"/>
<circle cx="647.05" cy="698.13" r="7.55" fill="#6fc4c4"/>
<circle cx="678.44" cy="903.40" r="7.55" fill="#6fc4c4"/>
<circle cx="678.44" cy="887.61" r="7.55" fill="#6fc4c4"/>
<circle cx="678.44" cy="871.82" r="7.55" fill="#6fc4c4"/>
<circle cx="678.44" cy="856.03" r="7.55" fill="#6fc4c4"/>
<circle cx="678.44" cy="840.24" r="7.55" fill="#6fc4c4"/>
<circle cx="678.44" cy="824.45" r="7.55" fill="#6fc4c4"/>
<circle cx="678.44" cy="808.66" r="7.55" fill="#6fc4c4"/>
<circle cx="678.44" cy="792.87" r="7.55" fill="#6fc4c4"/>
<circle cx="678.44" cy="777.08" r="7.55" fill="#6fc4c4"/>
<circle cx="678.44" cy="761.29" r="7.55" fill="#6fc4c4"/>
<circle cx="678.44" cy="745.50" r="7.55" fill="#6fc4c4"/>
<circle cx="678.44" cy="729.71" r="7.55" fill="#6fc4c4"/>
<circle cx="678.44" cy="713.92" r="7.55" fill="#6fc4c4"/>
<circle cx="678.44" cy="698.13" r="7.55" fill="#6fc4c4"/>
<circle cx="678.44" cy="682.34" r="7.55" fill="#6fc4c4"/>
<circle cx="709.83" cy="903.40" r="7.55" fill="#6fc4c4"/>
<circle cx="709.83" cy="887.61" r="7.55" fill="#6fc4c4"/>
<circle cx="709.83" cy="871.82" r="7.55" fill="#6fc4c4"/>
<circle cx="709.83" cy="856.03" r="7.55" fill="#6fc4c4"/>
<circle cx="709.83" cy="840.24" r="7.55" fill="#6fc4c4"/>
<circle cx="709.83" cy="824.45" r="7.55" fill="#6fc4c4"/>
<circle cx="709.83" cy="808.66" r="7.55" fill="#6fc4c4"/>
<circle cx="709.83" cy="792.87" r="7.55" fill="#6fc4c4"/>
<circle cx="709.83" cy="777.08" r="7.55" fill="#6fc4c4"/>
<circle cx="709.83" cy="761.29" r="7.55" fill="#6fc4c4"/>
<circle cx="709.83" cy="745.50" r="7.55" fill="#6fc4c4"/>
<circle cx="709.83" cy="729.71" r="7.55" fill="#6fc4c4"/>
<circle cx="741.21" cy="903.40" r="7.55" fill="#6fc4c4"/>
<circle cx="741.21" cy="887.61" r="7.55" fill="#6fc4c4"/>
<circle cx="741.21" cy="871.82" r="7.55" fill="#6fc4c4"/>
<circle cx="741.21" cy="856.03" r="7.55" fill="#6fc4c4"/>
<circle cx="741.21" cy="840.24" r="7.55" fill="#6fc4c4"/>
<circle cx="741.21" cy="824.45" r="7.55" fill="#6fc4c4"/>
<circle cx="741.21" cy="808.66" r="7.55" fill="#6fc4c4"/>
<circle cx="741.21" cy="792.87" r="7.55" fill="#6fc4c4"/>
<circle cx="741.21" cy="777.08" r="7.55" fill="#6fc4c4"/>
<circle cx="741.21" cy="761.29" r="7.55" fill="#6fc4c4"/>
<circle cx="741.21" cy="745.50" r="7.55" fill="#6fc4c4"/>
<circle cx="741.21" cy="729.71" r="7.55" fill="#6fc4c4"/>
<circle cx="772.60" cy="903.40" r="7.55" fill="#6fc4c4"/>
<circle cx="772.60" cy="887.61" r="7.55" fill="#6fc4c4"/>
<circle cx="772.60" cy="871.82" r="7.55" fill="#6fc4c4"/>
<circle cx="772.60" cy="856.03" r="7.55" fill="#6fc4c4"/>
<circle cx="772.60" cy="840.24" r="7.55" fill="#6fc4c4"/>
<circle cx="772.60" cy="824.45" r="7.55" fill="#6fc4c4"/>
<path d="M50.70 910.95V926.20H207.63V910.95 M82.09 910.95V915.40 M113.47 910.95V915.40 M144.86 910.95V915.40 M176.25 910.95V915.40 M239.02 910.95V926.20H395.96V910.95 M270.41 910.95V915.40 M301.80 910.95V915.40 M333.18 910.95V915.40 M364.57 910.95V915.40 M427.34 910.95V926.20H584.28V910.95 M458.73 910.95V915.40 M490.12 910.95V915.40 M521.50 910.95V915.40 M552.89 910.95V915.40 M615.67 910.95V926.20H772.60V910.95 M647.05 910.95V915.40 M678.44 910.95V915.40 M709.83 910.95V915.40 M741.21 910.95V915.40" stroke="#3d3d3d" stroke-width="1.1" fill="none" stroke-linejoin="round"/>
<circle cx="316.5" cy="142.75" r="6.5" fill="#c60a28"/>
<circle cx="429.75" cy="142.75" r="6.5" fill="#6fc4c4"/>
</svg>
<div class="t" id="title">NOBEL IMBALANCE</div>
<div class="t" id="sub">Of the 599 Nobel medals awarded in scientific disciplines, just 18 have gone<br>to women.</div>
<div class="t sec" style="left:20px;top:131px">Chemistry</div>
<div class="t leg" style="left:331.25px;top:132.5px">Women</div>
<div class="t leg" style="left:443.5px;top:132.5px">Men</div>
<div class="t sec" style="left:21px;top:412px">Physiology or Medicine</div>
<div class="t sec" style="left:21px;top:675px;letter-spacing:-0.9px">Physics</div>
<div class="t yr" style="left:73.9px;top:936px">1901–1930</div>
<div class="t yr" style="left:262.1px;top:936px">1931–1960</div>
<div class="t yr" style="left:450.4px;top:936px">1961–1990</div>
<div class="t yr" style="left:639px;top:936px">1991–2017</div>
<svg style="position:absolute;left:0;top:0" width="800" height="1009"><circle cx="25.95" cy="982.8" r="5.25" fill="none" stroke="#a3a3a3" stroke-width="1.4"/><path d="M28.1 980.9A2.75 2.75 0 1 0 28.1 984.7" fill="none" stroke="#a3a3a3" stroke-width="1.2"/></svg>
<div class="t" id="logo">nature</div>
<div class="t" id="note" style="left:577.7px;top:977px">One stack represents five years.</div>
</body></html>
